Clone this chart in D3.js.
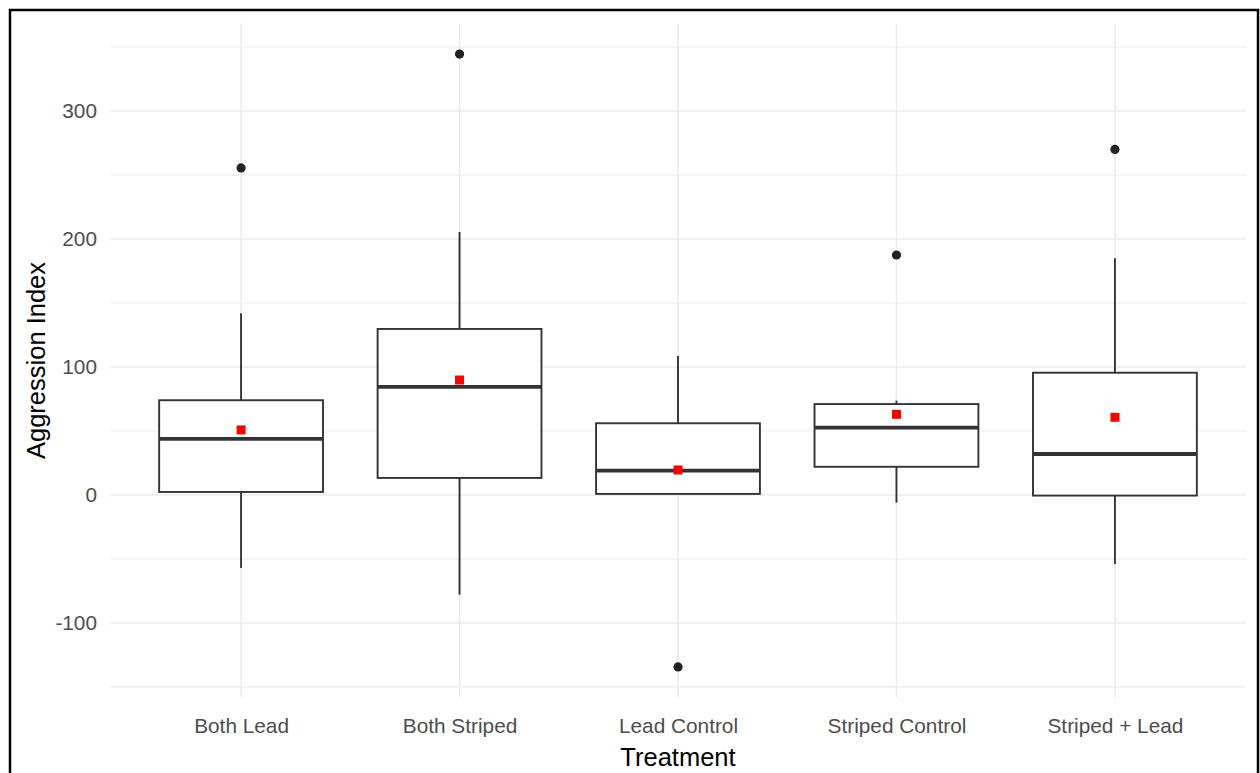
<!DOCTYPE html>
<html>
<head>
<meta charset="utf-8">
<script src="https://cdn.jsdelivr.net/npm/d3@7"></script>
<style>
  html, body { margin: 0; padding: 0; background: #fff; }
  svg { display: block; font-family: "Liberation Sans", Arial, sans-serif; }
</style>
</head>
<body>
<svg id="chart" width="1260" height="773"></svg>
<script>
// data
const treatments = ["Both Lead", "Both Striped", "Lead Control", "Striped Control", "Striped + Lead"];
const whiskerLow = [-57, -78, 0.8, -6, -54];
const q1 = [2.3, 13.3, 0.8, 22, -0.5];
const median = [43.8, 84.4, 19, 52.6, 32];
const q3 = [74, 129.7, 56, 71, 95.5];
const whiskerHigh = [142, 205.5, 108.6, 73.7, 185];
const means = [50.8, 89.8, 19.5, 63, 60.7];
const outliers = [
  { treatment: "Both Lead", value: 255.5 },
  { treatment: "Both Striped", value: 344.5 },
  { treatment: "Lead Control", value: -134.4 },
  { treatment: "Striped Control", value: 187.5 },
  { treatment: "Striped + Lead", value: 270 }
];
const yMajor = [-100, 0, 100, 200, 300];
const yMinor = [-150, -50, 50, 150, 250, 350];

const boxes = treatments.map((t, i) => ({
  treatment: t, lo: whiskerLow[i], q1: q1[i], med: median[i], q3: q3[i], hi: whiskerHigh[i], mean: means[i]
}));

const svg = d3.select("#chart");
const panel = { left: 110, right: 1246, top: 23.4, bottom: 697.6 };

// frame around the screenshot
svg.append("rect")
  .attr("x", 10).attr("y", 10)
  .attr("width", 1248).attr("height", 800)
  .attr("fill", "none")
  .attr("stroke", "#000")
  .attr("stroke-width", 2.5);

const x = d3.scalePoint()
  .domain(treatments)
  .range([panel.left, panel.right])
  .padding(0.6);

const allVals = whiskerLow.concat(whiskerHigh, outliers.map(d => d.value));
const [vmin, vmax] = d3.extent(allVals);
const pad = (vmax - vmin) * 0.05;
const y = d3.scaleLinear()
  .domain([vmin - pad, vmax + pad])
  .range([panel.bottom, panel.top]);

const boxW = x.step() * 0.75;

// grid
const grid = svg.append("g");
grid.selectAll(".minor")
  .data(yMinor)
  .enter().append("line")
  .attr("x1", panel.left).attr("x2", panel.right)
  .attr("y1", d => y(d)).attr("y2", d => y(d))
  .attr("stroke", "#ebebeb")
  .attr("stroke-width", 1.1);
grid.selectAll(".major")
  .data(yMajor)
  .enter().append("line")
  .attr("x1", panel.left).attr("x2", panel.right)
  .attr("y1", d => y(d)).attr("y2", d => y(d))
  .attr("stroke", "#ebebeb")
  .attr("stroke-width", 1.5);
grid.selectAll(".vert")
  .data(treatments)
  .enter().append("line")
  .attr("x1", d => x(d)).attr("x2", d => x(d))
  .attr("y1", panel.top).attr("y2", panel.bottom)
  .attr("stroke", "#ebebeb")
  .attr("stroke-width", 1.5);

// axes (text only, like theme_minimal)
const yAxis = svg.append("g")
  .attr("transform", `translate(${panel.left},0)`)
  .call(d3.axisLeft(y).tickValues(yMajor).tickFormat(d => String(d)).tickSize(0).tickPadding(13));
yAxis.select(".domain").remove();
yAxis.selectAll("text")
  .attr("fill", "#4d4d4d")
  .attr("font-size", "20.8px")
  .attr("font-family", "Liberation Sans, Arial, sans-serif");

const xAxis = svg.append("g")
  .attr("transform", `translate(0,${panel.bottom})`)
  .call(d3.axisBottom(x).tickSize(0).tickPadding(0));
xAxis.select(".domain").remove();
xAxis.selectAll("text")
  .attr("dy", null)
  .attr("y", 35)
  .attr("fill", "#4d4d4d")
  .attr("font-size", "20.8px")
  .attr("font-family", "Liberation Sans, Arial, sans-serif");

// boxplots
const g = svg.append("g");
const bx = g.selectAll(".box")
  .data(boxes)
  .enter().append("g");

bx.append("line")
  .attr("x1", d => x(d.treatment)).attr("x2", d => x(d.treatment))
  .attr("y1", d => y(d.q3)).attr("y2", d => y(d.hi))
  .attr("stroke", "#333").attr("stroke-width", 1.9);
bx.append("line")
  .attr("x1", d => x(d.treatment)).attr("x2", d => x(d.treatment))
  .attr("y1", d => y(d.q1)).attr("y2", d => y(d.lo))
  .attr("stroke", "#333").attr("stroke-width", 1.9);
bx.append("rect")
  .attr("x", d => x(d.treatment) - boxW / 2)
  .attr("y", d => y(d.q3))
  .attr("width", boxW)
  .attr("height", d => y(d.q1) - y(d.q3))
  .attr("fill", "#fff")
  .attr("stroke", "#333")
  .attr("stroke-width", 1.9);
bx.append("line")
  .attr("x1", d => x(d.treatment) - boxW / 2).attr("x2", d => x(d.treatment) + boxW / 2)
  .attr("y1", d => y(d.med)).attr("y2", d => y(d.med))
  .attr("stroke", "#333").attr("stroke-width", 3.8);

// outliers
g.selectAll(".outlier")
  .data(outliers)
  .enter().append("circle")
  .attr("cx", d => x(d.treatment))
  .attr("cy", d => y(d.value))
  .attr("r", 4.6)
  .attr("fill", "#222");

// mean markers
const sq = 9;
g.selectAll(".mean")
  .data(boxes)
  .enter().append("rect")
  .attr("x", d => x(d.treatment) - sq / 2)
  .attr("y", d => y(d.mean) - sq / 2)
  .attr("width", sq).attr("height", sq)
  .attr("fill", "#ff0000");

// axis titles
svg.append("text")
  .attr("x", (panel.left + panel.right) / 2)
  .attr("y", 766)
  .attr("text-anchor", "middle")
  .attr("font-size", "25.5px")
  .attr("fill", "#000")
  .text("Treatment");

svg.append("text")
  .attr("transform", `translate(45,${(panel.top + panel.bottom) / 2}) rotate(-90)`)
  .attr("text-anchor", "middle")
  .attr("font-size", "25.5px")
  .attr("fill", "#000")
  .text("Aggression Index");
</script>
</body>
</html>
